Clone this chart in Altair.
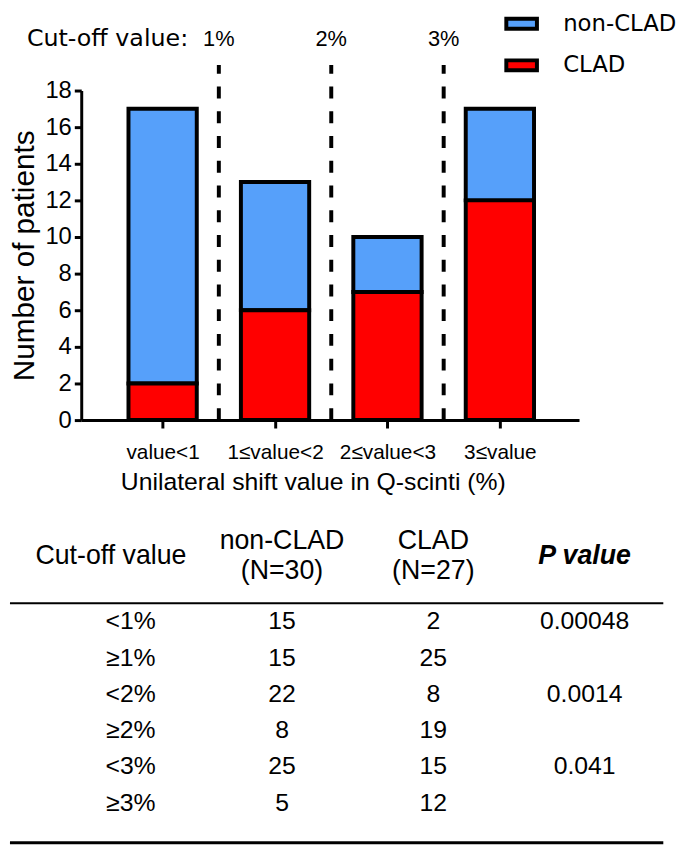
import json
import altair as alt
import pandas as pd

# ---------------- data ----------------
categories = ["value<1", "1≤value<2", "2≤value<3", "3≤value"]
lower_bounds = [0, 1, 2, 3]
non_clad_counts = [15, 7, 3, 5]
clad_counts = [2, 6, 7, 12]
groups = ["non-CLAD", "CLAD"]
group_colors = ["#56A0FA", "#FF0000"]
cutoffs = [1, 2, 3]
cutoff_labels = ["1%", "2%", "3%"]
y_ticks = [0, 2, 4, 6, 8, 10, 12, 14, 16, 18]

table_cutoffs = ["<1%", "≥1%", "<2%", "≥2%", "<3%", "≥3%"]
table_non_clad = [15, 15, 22, 8, 25, 5]
table_clad = [2, 25, 8, 19, 15, 12]
table_p = ["0.00048", "", "0.0014", "", "0.041", ""]
first_header = "Cut-off value"
group_headers = ["non-CLAD\n(N=30)", "CLAD\n(N=27)"]
p_header = "P value"

FONT = "Liberation Sans"
FONT2 = "DejaVu Sans"

# ---------------- tables for the library ----------------
bar_df = pd.DataFrame({
    "category": categories * 2,
    "lo": lower_bounds * 2,
    "group": [groups[0]] * len(categories) + [groups[1]] * len(categories),
    "count": non_clad_counts + clad_counts,
})
cut_df = pd.DataFrame({"xpos": cutoffs, "label": cutoff_labels})

cells = []
for r, (a, b, c, p) in enumerate(zip(table_cutoffs, table_non_clad, table_clad, table_p), start=1):
    for col, txt in enumerate([a, str(b), str(c), p]):
        cells.append({"row": r, "col": col, "text": txt})
table_df = pd.DataFrame(cells)
first_header_df = pd.DataFrame({"col": [0], "text": [first_header]})
group_header_df = pd.DataFrame({"col": [1, 2], "text": group_headers})
p_header_df = pd.DataFrame({"col": [3], "text": [p_header]})

# ---------------- bar chart ----------------
label_expr = json.dumps(categories, ensure_ascii=False) + "[floor(datum.value)]"
x_axis = alt.Axis(
    values=[b + 0.5 for b in lower_bounds],
    labelExpr=label_expr,
    title="Unilateral shift value in Q-scinti (%)",
    grid=False, tickSize=8, labelPadding=14, labelFontSize=21,
    labelOverlap=False, labelFlush=False,
    titleFontSize=25, titlePadding=7, titleX=234,
)
x_scale = alt.Scale(domain=[-0.18, 4.16], nice=False, zero=False)
x_enc = alt.X("xpos:Q", scale=x_scale, axis=x_axis)

y_axis = alt.Axis(values=y_ticks, title="Number of patients", grid=False,
                  tickSize=7, labelPadding=3, labelFontSize=24,
                  labelOverlap=False, labelFlush=False, labelBound=False,
                  titleFontSize=30, titleX=-57, titleBaseline="middle")
y_scale = alt.Scale(domain=[0, 18], nice=False, zero=True)

bars = alt.Chart(bar_df).transform_calculate(
    xpos="datum.lo + 0.5",
    stack_order="datum.group == 'CLAD' ? 0 : 1",
).mark_bar(size=69, stroke="black", strokeWidth=4, strokeJoin="miter").encode(
    x=x_enc,
    y=alt.Y("count:Q", stack="zero", scale=y_scale, axis=y_axis),
    color=alt.Color("group:N", scale=alt.Scale(domain=groups, range=group_colors),
                    legend=alt.Legend(title=None, orient="none", legendX=433.5, legendY=-79,
                                      symbolType="M-2.21,-0.71H2.21V0.71H-2.21Z", symbolSize=196,
                                      symbolStrokeColor="black", symbolStrokeWidth=4,
                                      labelFontSize=23, labelOffset=30.5, rowPadding=15,
                                      padding=0, labelFont=FONT2)),
    order=alt.Order("stack_order:Q"),
)

rules = alt.Chart(cut_df).mark_rule(strokeDash=[12, 13], strokeWidth=4, color="black").encode(
    x=x_enc, y=alt.Y(datum=0, scale=y_scale, axis=y_axis), y2=alt.datum(19.4)
)
cut_text = alt.Chart(cut_df).mark_text(fontSize=22, font=FONT, baseline="middle").encode(
    x=x_enc, y=alt.Y(datum=20.8, scale=y_scale, axis=y_axis), text="label:N"
)
cut_title = alt.Chart(cut_df.head(1)).mark_text(
    fontSize=24, font=FONT2, baseline="middle", align="right", dx=-31
).encode(x=x_enc, y=alt.Y(datum=20.8, scale=y_scale, axis=y_axis),
         text=alt.value("Cut-off value:"))

top = alt.layer(bars, rules, cut_text, cut_title).properties(width=503, height=333)

# ---------------- table ----------------
tx = alt.X("col:Q", scale=alt.Scale(domain=[-0.327, 2.963], nice=False, zero=False), axis=None)
ty_scale = alt.Scale(domain=[0.5, 7.1], reverse=True, nice=False, zero=False)

body = alt.Chart(table_df).mark_text(fontSize=25, font=FONT, baseline="middle").encode(
    x=tx, y=alt.Y("row:Q", scale=ty_scale, axis=None), text="text:N"
)
head0 = alt.Chart(first_header_df).mark_text(fontSize=27, font=FONT, baseline="middle", dx=-20).encode(
    x=tx, y=alt.datum(-0.8), text="text:N"
)
head12 = alt.Chart(group_header_df).mark_text(fontSize=27, font=FONT, baseline="middle",
                                              lineBreak="\n", lineHeight=31, dy=-15.5).encode(
    x=tx, y=alt.datum(-0.8), text="text:N"
)
phead = alt.Chart(p_header_df).mark_text(fontSize=27, font=FONT, baseline="middle",
                                          fontWeight="bold", fontStyle="italic").encode(
    x=tx, y=alt.datum(-0.8), text="text:N"
)
top_rule = alt.Chart(p_header_df).mark_rule(strokeWidth=2, color="black").encode(
    x=alt.datum(-0.798), x2=alt.datum(3.52), y=alt.datum(0.5)
)
bottom_rule = alt.Chart(p_header_df).mark_rule(strokeWidth=3, color="black").encode(
    x=alt.datum(-0.798), x2=alt.datum(3.52), y=alt.datum(7.1)
)
table = alt.layer(body, head0, head12, phead, top_rule, bottom_rule).properties(width=503, height=242)

chart = alt.vconcat(top, table, spacing=32).properties(padding=0).configure_view(
    stroke=None
).configure_axis(
    domainColor="black", domainWidth=3, tickColor="black", tickWidth=3,
    labelColor="black", titleColor="black", labelFont=FONT, titleFont=FONT,
    titleFontWeight="normal",
).configure_text(color="black")

chart.save("out.html", embed_options={"renderer": "svg", "actions": False})
